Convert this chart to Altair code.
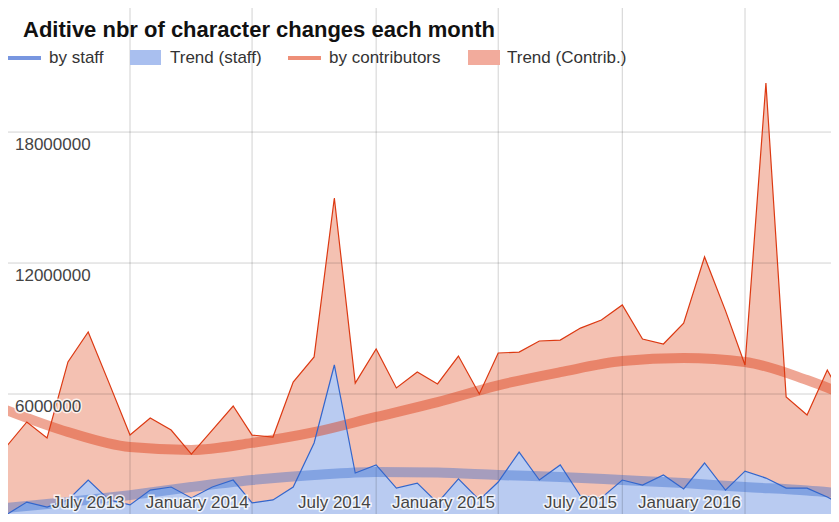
import altair as alt
import pandas as pd

# ---- data (values in characters) ----
months = pd.date_range("2013-03-01", periods=42, freq="MS").strftime("%Y-%m-%d").tolist()

by_contributors = [3570000, 4720000, 3990000, 7470000, 8840000, 6500000, 4120000, 4900000,
                   4350000, 3250000, 4350000, 5450000, 4120000, 4030000, 6550000, 7700000,
                   14980000, 6500000, 8060000, 6280000, 7010000, 6460000, 7740000, 6000000,
                   7880000, 7920000, 8430000, 8470000, 9020000, 9390000, 10080000, 8520000,
                   8290000, 9250000, 12280000, 9820000, 7330000, 20250000, 5860000, 5040000,
                   7100000, 5360000]

by_staff = [460000, 1050000, 820000, 1150000, 2060000, 1150000, 920000, 1600000,
            1740000, 1240000, 1740000, 2060000, 1010000, 1150000, 1740000, 3760000,
            7330000, 2380000, 2750000, 1690000, 1920000, 1010000, 2110000, 1150000,
            1970000, 3340000, 2060000, 2750000, 1330000, 1240000, 2060000, 1830000,
            2290000, 1650000, 2840000, 1600000, 2470000, 2150000, 1690000, 1690000,
            1280000, 780000]

trend_dates = ["2013-03-01", "2013-06-01", "2013-09-01", "2013-12-01", "2014-03-01",
               "2014-06-01", "2014-09-01", "2014-12-01", "2015-03-01", "2015-06-01",
               "2015-09-01", "2015-12-01", "2016-03-01", "2016-06-01", "2016-09-01"]
trend_contrib = [5270000, 4260000, 3570000, 3440000, 3760000, 4250000, 4950000, 5630000,
                 6400000, 7000000, 7510000, 7650000, 7470000, 6640000, 5500000]
trend_staff = [780000, 1050000, 1370000, 1740000, 2060000, 2290000, 2430000, 2400000,
               2290000, 2200000, 2060000, 1920000, 1740000, 1580000, 1320000]

grid_dates = ["2013-09-01", "2014-03-01", "2014-09-01", "2015-03-01", "2015-09-01", "2016-03-01"]
grid_values = [6000000, 12000000, 18000000]
y_labels = ["6000000", "12000000", "18000000"]
july_dates = ["2013-07-01", "2014-07-01", "2015-07-01"]
july_labels = ["July 2013", "July 2014", "July 2015"]
jan_dates = ["2014-01-01", "2015-01-01", "2016-01-01"]
jan_labels = ["January 2014", "January 2015", "January 2016"]

title_text = "Aditive nbr of character changes each month"
legend_names = ["by staff", "Trend (staff)", "by contributors", "Trend (Contrib.)"]

FONT = "Liberation Sans"
RED = "#dc3912"
BLUE = "#3366cc"

df = pd.DataFrame({"date": months, "contrib": by_contributors, "staff": by_staff})
tdf = pd.DataFrame({"date": trend_dates, "tc": trend_contrib, "ts": trend_staff})
gdf = pd.DataFrame({"date": grid_dates})
hdf = pd.DataFrame({"value": grid_values, "label": y_labels})
jdf = pd.DataFrame({"date": july_dates, "label": july_labels})
ndf = pd.DataFrame({"date": jan_dates, "label": jan_labels})
one = alt.Data(values=[{"k": 0}])

xscale = alt.Scale(domain=[alt.DateTime(year=2013, month=3, date=4, hours=2, utc=True),
                           alt.DateTime(year=2016, month=7, date=6, hours=12, utc=True)])
yscale = alt.Scale(domain=[504000, 23683000], nice=False, zero=False)

X = alt.X("date:T", scale=xscale, axis=None)

red_area = alt.Chart(df).mark_area(color="#f4c1b2", clip=True).encode(
    x=X, y=alt.Y("contrib:Q", scale=yscale, axis=None), y2=alt.datum(0))
blue_area = alt.Chart(df).mark_area(color="#b9cbf1", clip=True).encode(
    x=X, y=alt.Y("staff:Q", scale=yscale, axis=None), y2=alt.datum(0))

vgrid = alt.Chart(gdf).mark_rule(color="black", opacity=0.18, strokeWidth=1).encode(x=X)
hgrid = alt.Chart(hdf).mark_rule(color="black", opacity=0.18, strokeWidth=1).encode(
    y=alt.Y("value:Q", scale=yscale, axis=None))

red_trend = alt.Chart(tdf).mark_line(color=RED, opacity=0.45, strokeWidth=10,
                                     interpolate="monotone", clip=True).encode(
    x=X, y=alt.Y("tc:Q", scale=yscale, axis=None))
blue_trend = alt.Chart(tdf).mark_line(color=BLUE, opacity=0.4, strokeWidth=10,
                                      interpolate="monotone", clip=True).encode(
    x=X, y=alt.Y("ts:Q", scale=yscale, axis=None))

red_line = alt.Chart(df).mark_line(color=RED, strokeWidth=1.2, clip=True).encode(
    x=X, y=alt.Y("contrib:Q", scale=yscale, axis=None))
blue_line = alt.Chart(df).mark_line(color=BLUE, strokeWidth=1.2, clip=True).encode(
    x=X, y=alt.Y("staff:Q", scale=yscale, axis=None))

def halo_text(data, enc, **kw):
    halo = alt.Chart(data).mark_text(font=FONT, fontSize=17, fill="white", stroke="white",
                                     strokeWidth=3, strokeOpacity=0.8, **kw).encode(**enc)
    txt = alt.Chart(data).mark_text(font=FONT, fontSize=17, color="#444", **kw).encode(**enc)
    return [halo, txt]

ylab = halo_text(hdf, dict(y=alt.Y("value:Q", scale=yscale, axis=None), x=alt.value(7),
                           text="label:N"), align="left", baseline="middle", dy=13)
jlab = halo_text(jdf, dict(x=X, y=alt.value(500), text="label:N"),
                 align="center", baseline="alphabetic")
nlab = halo_text(ndf, dict(x=X, y=alt.value(500), text="label:N"),
                 align="center", baseline="alphabetic", dx=-15)

title = alt.Chart(one).mark_text(text=title_text, font=FONT, fontSize=22, fontWeight="bold",
                                 color="#111", align="left", baseline="alphabetic").encode(
    x=alt.value(15), y=alt.value(29))

leg = [
    alt.Chart(one).mark_rule(color="#7896e0", strokeWidth=4).encode(
        x=alt.value(0), x2=alt.value(33), y=alt.value(50)),
    alt.Chart(one).mark_rect(color="#a9bfef").encode(
        x=alt.value(122), x2=alt.value(153), y=alt.value(42), y2=alt.value(57)),
    alt.Chart(one).mark_rule(color="#ee8f78", strokeWidth=4).encode(
        x=alt.value(280), x2=alt.value(313), y=alt.value(50)),
    alt.Chart(one).mark_rect(color="#f2ab9c").encode(
        x=alt.value(460), x2=alt.value(492), y=alt.value(42), y2=alt.value(57)),
]
leg_x = [41, 162, 321, 499]
for name, lx in zip(legend_names, leg_x):
    leg.append(alt.Chart(one).mark_text(text=name, font=FONT, fontSize=17, color="#333",
                                        align="left", baseline="middle").encode(
        x=alt.value(lx), y=alt.value(49.5)))

chart = alt.layer(
    red_area, blue_area, vgrid, hgrid, red_trend, blue_trend, red_line, blue_line,
    *ylab, *jlab, *nlab, title, *leg
).properties(
    width=823, height=506, padding=0, background="white",
    autosize=alt.AutoSizeParams(type="none")
).configure_view(stroke=None)

chart.save("out.html", embed_options={"renderer": "svg", "actions": False})
